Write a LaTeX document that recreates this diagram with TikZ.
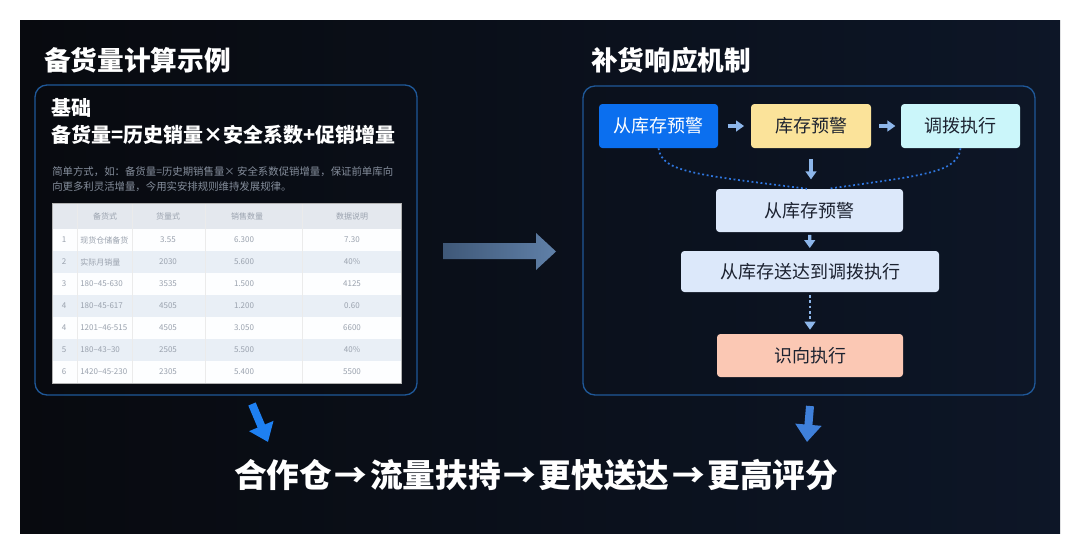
\documentclass[tikz,border=0pt]{standalone}
\usepackage{fontspec}
\setmainfont{Noto Sans CJK SC}
\usetikzlibrary{arrows.meta, positioning}

\definecolor{bgL}{HTML}{080A0F}
\definecolor{bgR}{HTML}{0D1627}
\definecolor{frameblue}{HTML}{1F5898}
\definecolor{alertblue}{HTML}{0B6FEF}
\definecolor{warnyellow}{HTML}{FBE39A}
\definecolor{execcyan}{HTML}{CBF6FA}
\definecolor{paleblue}{HTML}{DCE8FA}
\definecolor{execsalmon}{HTML}{FBC8B4}
\definecolor{tipblue}{HTML}{8DB6EA}
\definecolor{dotblue}{HTML}{2F76DE}
\definecolor{bigblue}{HTML}{1E80F2}
\definecolor{softblue}{HTML}{3F80DA}
\definecolor{midarrowL}{HTML}{3F5878}
\definecolor{midarrowR}{HTML}{6080A8}
\definecolor{rowA}{HTML}{FDFEFF}
\definecolor{rowB}{HTML}{E9EFF6}
\definecolor{headrow}{HTML}{E4E8EE}
\definecolor{celltext}{HTML}{9AA2AE}
\definecolor{desctext}{HTML}{858E9C}
\definecolor{boxtext}{HTML}{1C2230}

\begin{document}
\begin{tikzpicture}[x=0.75pt, y=-0.75pt,
  title/.style={text=white, font=\bfseries\fontsize{20}{24}\selectfont, anchor=west, inner sep=0pt},
  heading/.style={text=white, font=\bfseries\fontsize{15}{18}\selectfont, anchor=west, inner sep=0pt},
  frame/.style={draw=frameblue, line width=1pt, rounded corners=9pt},
  flowbox/.style={rounded corners=2.5pt, inner sep=0pt, text=boxtext, font=\fontsize{13.5}{16}\selectfont},
  flowarrow/.style={-{Triangle[width=8pt,length=6pt]}, line width=2.3pt, tipblue},
  linkdots/.style={dotblue, line width=1.3pt, dash pattern=on 1.4pt off 2pt},
  bigarrow/.style={-{Triangle[width=19pt,length=13pt]}, line width=6pt},
  cell/.style={font=\fontsize{6}{7}\selectfont, text=celltext, inner sep=0pt},
  gridline/.style={draw=black!8, line width=0.4pt}]
  \useasboundingbox (0,0) rectangle (1080,554);
  \fill[white] (0,0) rectangle (1080,554);
  % Dark panel
  \shade[left color=bgL, right color=bgR] (20,20) rectangle (1060,533);

  % Titles
  \node[title] (lefttitle) at (44,60) {备货量计算示例};
  \node[title] (righttitle) at (591,60) {补货响应机制};

  % Left: stock calculation
  \draw[frame] (35,85) rectangle (417,395);
  \node[heading] (basis) at (51,108) {基础};
  \node[heading] (formula) at (51,135) {备货量=历史销量×安全系数+促销增量};
  \node[anchor=west, inner sep=0pt, text=desctext, font=\fontsize{7.8}{10.8}\selectfont, align=left] (desc) at (52,179)
    {简单方式，如：备货量=历史期销售量× 安全系数促销增量，保证前单库向\\向更多利灵活增量，今用实安排规则维持发展规律。};

  % Table
  \fill[headrow] (52,203) rectangle (401,229);
  \foreach \n/\name/\a/\b/\c/\rowfill [count=\r from 0] in {
      1/现货仓储备货/3.55/6.300/7.30/rowA,
      2/实际月销量/2030/5.600/40\%/rowB,
      3/180--45-630/3535/1.500/4125/rowA,
      4/180--45-617/4505/1.200/0.60/rowB,
      4/1201--46-515/4505/3.050/6600/rowA,
      5/180--43--30/2505/5.500/40\%/rowB,
      6/1420--45-230/2305/5.400/5500/rowA} {
    \pgfmathsetmacro\ytop{229+22*\r}
    \pgfmathsetmacro\ymid{\ytop+11}
    \fill[\rowfill] (52,\ytop) rectangle (401,\ytop+22);
    \node[cell] (num\r) at (64,\ymid) {\n};
    \node[cell, anchor=west] (item\r) at (80,\ymid) {\name};
    \node[cell] (qty\r) at (168,\ymid) {\a};
    \node[cell] (sale\r) at (244,\ymid) {\b};
    \node[cell] (data\r) at (352,\ymid) {\c};
  }
  \foreach \cx in {77,132,205,302}
    \draw[gridline] (\cx,203) -- (\cx,383);
  \node[cell] (h1) at (105,216) {备货式};
  \node[cell] (h2) at (168,216) {货量式};
  \node[cell] (h3) at (247,216) {销售数量};
  \node[cell] (h4) at (352,216) {数据说明};
  \draw[black!30, line width=0.6pt] (52,203) rectangle (401,383);

  % Middle arrow
  \shade[left color=midarrowL, right color=midarrowR]
    (443,243) -- (536,243) -- (536,233) -- (556,251.5) -- (536,270) -- (536,259) -- (443,259) -- cycle;

  % Right: replenishment flow
  \draw[frame] (583,86) rectangle (1035,395);
  \node[flowbox, fill=alertblue, text=white, minimum width=89.25pt, minimum height=33pt] (alert) at (658.5,126) {从库存预警};
  \node[flowbox, fill=warnyellow, minimum width=90pt, minimum height=33pt] (warn) at (811,126) {库存预警};
  \node[flowbox, fill=execcyan, minimum width=89.25pt, minimum height=33pt] (dispatch) at (960.5,126) {调拨执行};
  \node[flowbox, fill=paleblue, minimum width=140.25pt, minimum height=32.25pt] (check) at (809.5,210.5) {从库存预警};
  \node[flowbox, fill=paleblue, minimum width=193.5pt, minimum height=30.75pt] (deliver) at (810,271.5) {从库存送达到调拨执行};
  \node[flowbox, fill=execsalmon, minimum width=139.5pt, minimum height=32.25pt] (execute) at (810,355.5) {识向执行};

  \draw[flowarrow, shorten <=7pt, shorten >=5pt] (alert) -- (warn);
  \draw[flowarrow, shorten <=6pt, shorten >=4pt] (warn) -- (dispatch);
  \draw[flowarrow, shorten <=8pt, shorten >=7pt] (warn.south) -- (warn.south |- check.north);
  \draw[flowarrow, shorten <=2pt, shorten >=2pt] (check) -- (deliver);
  \draw[flowarrow, line width=1.5pt, dash pattern=on 2pt off 2pt, shorten <=2pt, shorten >=3pt] (deliver) -- (deliver |- execute.north);
  \draw[linkdots] (alert.south) .. controls +(3,24) and +(-110,-14) .. ([xshift=-2pt]check.north);
  \draw[linkdots] (dispatch.south) .. controls +(-3,24) and +(100,-14) .. ([xshift=14pt]check.north);

  % Bottom arrows and slogan
  \coordinate (lefttail) at (252,404);
  \coordinate (lefttip) at (268,442);
  \coordinate (righttail) at (810,406);
  \coordinate (righttip) at (807,442);
  \draw[bigarrow, bigblue] (lefttail) -- (lefttip);
  \draw[bigarrow, softblue] (righttail) -- (righttip);
  \node[anchor=west, inner sep=0pt, text=white, font=\bfseries\fontsize{24.5}{30}\selectfont] (slogan) at (234,475)
    {合作仓\kern2pt→\kern2pt流量扶持\kern2pt→\kern2pt更快送达\kern2pt→\kern2pt更高评分};
\end{tikzpicture}
\end{document}
